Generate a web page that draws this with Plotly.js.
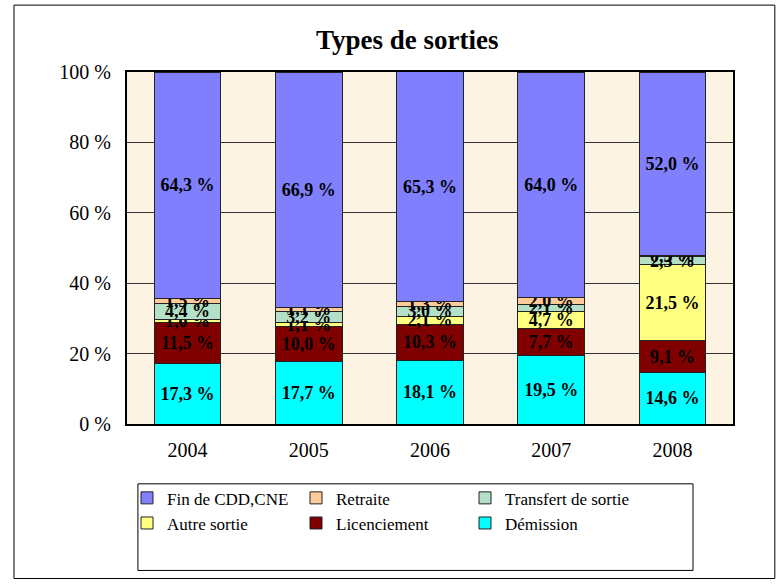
<!DOCTYPE html>
<html>
<head>
<meta charset="utf-8">
<script src="https://cdn.plot.ly/plotly-3.0.1.min.js"></script>
<style>html,body{margin:0;padding:0;background:#fff;}#chart{width:780px;height:585px;}</style>
</head>
<body>
<div id="chart"></div>
<script>
const years = ['2004', '2005', '2006', '2007', '2008'];
const demission = [17.3, 17.7, 18.1, 19.5, 14.6];
const licenciement = [11.5, 10.0, 10.3, 7.7, 9.1];
const autreSortie = [1.0, 1.1, 2.1, 4.7, 21.5];
const transfert = [4.4, 3.2, 3.0, 2.1, 2.3];
const retraite = [1.5, 1.1, 1.3, 2.0, 0.5];
const finCDD = [64.3, 66.9, 65.3, 64.0, 52.0];

const seriesNames = ['Démission', 'Licenciement', 'Autre sortie', 'Transfert de sortie', 'Retraite', 'Fin de CDD,CNE'];
const seriesValues = [demission, licenciement, autreSortie, transfert, retraite, finCDD];
const seriesColors = ['#00FFFF', '#800000', '#FFFF80', '#B3E0C6', '#FFCC99', '#8080FF'];

const FONT = 'Liberation Serif, Times New Roman, serif';

const traces = seriesNames.map((name, i) => ({
  type: 'bar',
  name: name,
  x: years,
  y: seriesValues[i],
  marker: {color: seriesColors[i], line: {color: '#222', width: 1}},
  texttemplate: '%{y:.1f} %',
  textposition: 'inside',
  insidetextanchor: 'middle',
  textangle: 0,
  constraintext: 'none',
  textfont: {family: FONT, size: 18, color: '#000', weight: 'bold'},
  hoverinfo: 'skip'
}));

const layout = {
  width: 780, height: 585,
  margin: {l: 127, r: 47, t: 72, b: 161},
  barmode: 'stack',
  bargap: 0.45,
  separators: ', ',
  paper_bgcolor: '#fff',
  plot_bgcolor: '#FDF3E3',
  font: {family: FONT, color: '#000'},
  uniformtext: {mode: 'show', minsize: 18},
  title: {text: '<b>Types de sorties</b>', font: {family: FONT, size: 27, color: '#000'}, x: 0.522, xanchor: 'center', y: 0.933, yanchor: 'middle'},
  xaxis: {
    type: 'category',
    tickfont: {family: FONT, size: 20, color: '#000'},
    showline: true, linecolor: '#000', linewidth: 2, mirror: true,
    ticks: '', showgrid: false,
    ticklabelstandoff: 7
  },
  yaxis: {
    range: [0, 100], dtick: 20, tick0: 0,
    ticksuffix: ' %',
    tickfont: {family: FONT, size: 20, color: '#000'},
    showline: true, linecolor: '#000', linewidth: 2, mirror: true,
    ticks: '', showgrid: true, gridcolor: '#333', gridwidth: 1,
    zeroline: false,
    ticklabelstandoff: 10
  },
  showlegend: true,
  legend: {
    orientation: 'h',
    traceorder: 'reversed',
    x: 0.0, xanchor: 'left',
    y: -0.16, yanchor: 'top',
    entrywidth: 124, entrywidthmode: 'pixels',
    font: {family: FONT, size: 17, color: '#000'},
    bgcolor: 'rgba(0,0,0,0)',
    borderwidth: 0
  },
  shapes: [
    {type: 'rect', xref: 'paper', yref: 'paper', x0: -0.1865, x1: 1.069, y0: -0.439, y1: 1.19, line: {color: '#000', width: 1}},
    {type: 'rect', xref: 'paper', yref: 'paper', x0: 0.018, x1: 0.934, y0: -0.416, y1: -0.170, line: {color: '#000', width: 1}}
  ]
};

Plotly.newPlot('chart', traces, layout, {staticPlot: true, displayModeBar: false});
</script>
</body>
</html>
